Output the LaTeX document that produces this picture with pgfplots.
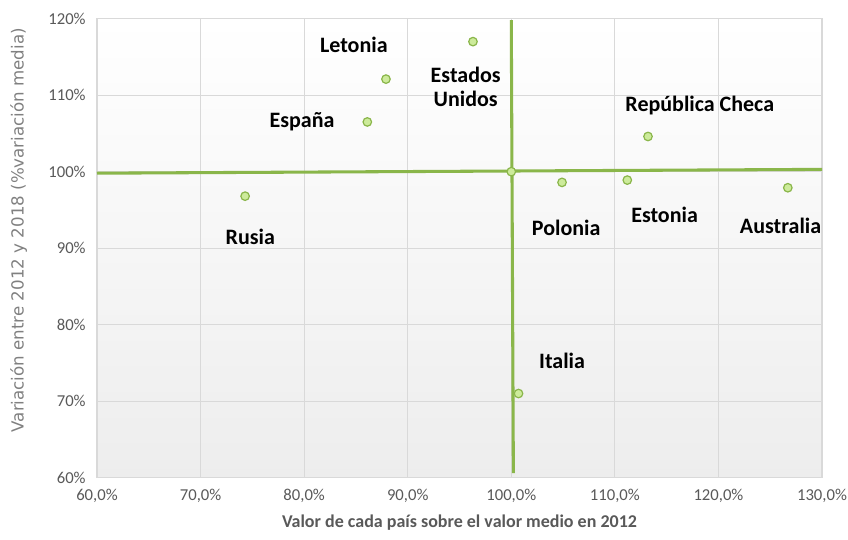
\documentclass[border=0pt]{standalone}
\usepackage{pgfplots}
\pgfplotsset{compat=1.18}
\usepackage{fontspec}
\setmainfont{Carlito}
\newfontfamily\ylabfont{DejaVu Sans}
\definecolor{lgreen}{RGB}{138,182,74}
\definecolor{mfill}{RGB}{205,235,155}
\definecolor{tickgray}{RGB}{89,89,89}
\definecolor{gridgray}{RGB}{217,217,217}
\begin{document}
\begin{tikzpicture}
\path[use as bounding box] (-72.75pt,-46.7pt) rectangle (563.25pt,358.25pt);
\begin{axis}[
  at={(0,0)}, anchor=south west,
  width=543.75pt, height=344.25pt, scale only axis,
  xmin=60, xmax=130, ymin=60, ymax=120,
  xtick={60,70,...,130}, ytick={60,70,...,120},
  yticklabels={60\%,70\%,80\%,90\%,100\%,110\%,120\%},
  xticklabels={{60,0\%},{70,0\%},{80,0\%},{90,0\%},{100,0\%},{110,0\%},{120,0\%},{130,0\%}},
  tick style={draw=none},
  grid=major, grid style={gridgray, line width=0.8pt},
  axis line style={gridgray, line width=0.8pt},
  axis background/.style={shade, top color=white, bottom color=black!7},
  ticklabel style={font=\fontsize{12.5}{14}\selectfont, text=tickgray},
  /pgf/number format/assume math mode=true,
  yticklabel style={xshift=-5pt},
  xticklabel style={yshift=-5pt},
  xlabel={Valor de cada país sobre el valor medio en 2012},
  xlabel style={font=\fontsize{13.5}{15}\selectfont\bfseries, text=tickgray, yshift=-2pt},
  ylabel={Variación entre 2012 y 2018 (\%variación media)},
  ylabel style={font=\ylabfont\fontsize{12.5}{14}\selectfont, text=black!50, yshift=9pt, xshift=13.5pt},
  clip=false,
]
\addplot[lgreen, line width=2.3pt] coordinates {(60,99.8) (130,100.3)};
\addplot[lgreen, line width=2.3pt] coordinates {(100.0,119.8) (100.2,60.6)};
\addplot[only marks, mark=*, mark size=3.2pt, mark options={fill=mfill, draw=lgreen, line width=0.9pt}]
coordinates {
(74.3,96.8) (86.1,106.5) (87.9,112.1) (96.3,117.0) (113.2,104.6)
(104.9,98.6) (111.2,98.9) (126.7,97.9) (100.7,71.0) (100.0,100.0)
};
\begin{scope}[every node/.style={font=\fontsize{16.5}{18}\selectfont\bfseries, align=center}]
\node at (axis cs:84.8,116.6) {Letonia};
\node at (axis cs:95.6,111.1) {Estados\\Unidos};
\node at (axis cs:79.8,106.5) {España};
\node at (axis cs:118.2,108.6) {República Checa};
\node at (axis cs:74.8,91.5) {Rusia};
\node at (axis cs:105.3,92.6) {Polonia};
\node at (axis cs:114.8,94.3) {Estonia};
\node at (axis cs:126.0,92.9) {Australia};
\node at (axis cs:104.9,75.3) {Italia};
\end{scope}
\end{axis}
\end{tikzpicture}
\end{document}
